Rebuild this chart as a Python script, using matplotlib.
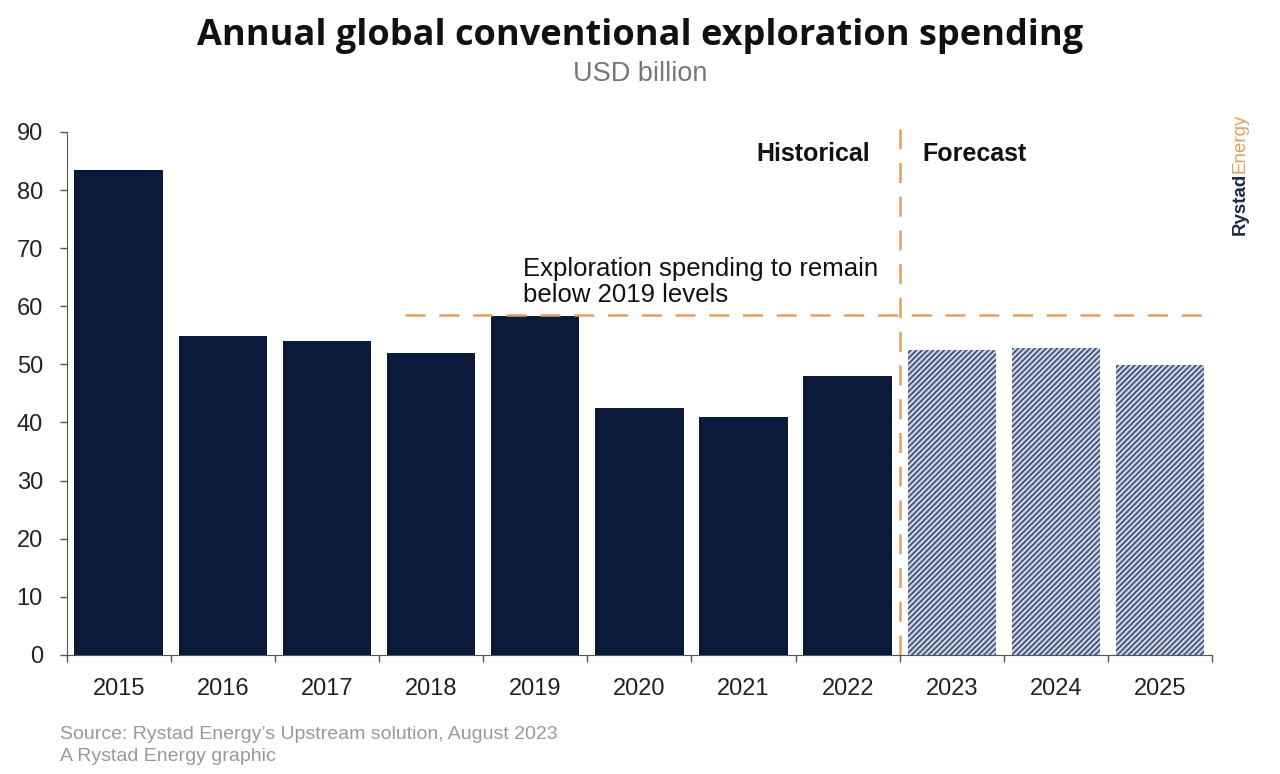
import matplotlib
matplotlib.use("Agg")
import matplotlib.pyplot as plt

years = ["2015", "2016", "2017", "2018", "2019", "2020", "2021", "2022", "2023", "2024", "2025"]
spending = [83.5, 54.9, 54.0, 52.0, 58.3, 42.5, 41.0, 48.0, 52.5, 52.8, 49.9]
forecast = [False] * 8 + [True] * 3
level_2019 = 58.5
yticks = [0, 10, 20, 30, 40, 50, 60, 70, 80, 90]

NAVY = "#0b1a3a"
ORANGE = "#e0a060"
plt.rcParams['font.family'] = ['Liberation Sans', 'DejaVu Sans']
plt.rcParams['hatch.linewidth'] = 1.2
plt.rcParams['hatch.color'] = "#3d4d72"

fig = plt.figure(figsize=(12.8, 7.74), dpi=100)
ax = fig.add_axes([0.052, 0.154, 0.895, 0.6755])

x = list(range(len(years)))
for xi, v, f in zip(x, spending, forecast):
    if f:
        ax.bar(xi, v, width=0.85, color="#ccd3e4", hatch="//////", edgecolor="#3d4d72", linewidth=0)
    else:
        ax.bar(xi, v, width=0.85, color=NAVY, linewidth=0)

ax.set_xlim(-0.5, 10.5)
ax.set_ylim(0, 90)
ax.set_yticks(yticks)
ax.set_xticks(x)
ax.set_xticklabels(years)
ax.set_xticks([i - 0.5 for i in range(len(years) + 1)], minor=True)
ax.tick_params(axis='both', labelsize=17, colors="#222222", width=1, color="#555555")
ax.tick_params(axis='x', which='major', length=0, pad=17)
ax.tick_params(axis='x', which='minor', length=5, width=1, color="#555555")
ax.tick_params(axis='y', length=5, pad=12)
for s in ["top", "right"]:
    ax.spines[s].set_visible(False)
ax.spines["left"].set_color("#555555")
ax.spines["bottom"].set_color("#555555")

# reference lines
ax.plot([2.75, 10.5], [level_2019, level_2019], ls=(0, (8, 5.5)), color=ORANGE, lw=1.8, clip_on=False)
ax.plot([7.5, 7.5], [0, 91.5], ls=(0, (8, 5.5)), color=ORANGE, lw=1.8, clip_on=False)

ax.text(7.215, 86.2, "Historical", ha="right", va="center", fontsize=18, fontweight="bold", color="#111111")
ax.text(7.717, 86.2, "Forecast", ha="left", va="center", fontsize=18, fontweight="bold", color="#111111")
ax.text(3.88, 64.2, "Exploration spending to remain\nbelow 2019 levels", ha="left", va="center",
        fontsize=18.5, color="#111111", linespacing=1.12)

fig.text(0.5, 0.953, "Annual global conventional exploration spending", ha="center", va="center",
         fontsize=26, fontweight="bold", color="#111111", family=['Open Sans', 'DejaVu Sans'])
fig.text(0.5, 0.905, "USD billion", ha="center", va="center", fontsize=19.5, color="#777777")

fig.text(0.047, 0.051, "Source: Rystad Energy\u2019s Upstream solution, August 2023", ha="left", va="center",
         fontsize=14, color="#999999")
fig.text(0.047, 0.022, "A Rystad Energy graphic", ha="left", va="center", fontsize=14, color="#999999")

t1 = fig.text(0.969, 0.696, "Rystad", rotation=90, ha="center", va="bottom", fontsize=13.5, fontweight="bold", color="#1f2a44")
ax.annotate("Energy", xy=(0.5, 1.0), xycoords=t1, rotation=90, ha="center", va="bottom",
            fontsize=13.5, color=ORANGE, annotation_clip=False)

fig.savefig("out.png", dpi=100)
